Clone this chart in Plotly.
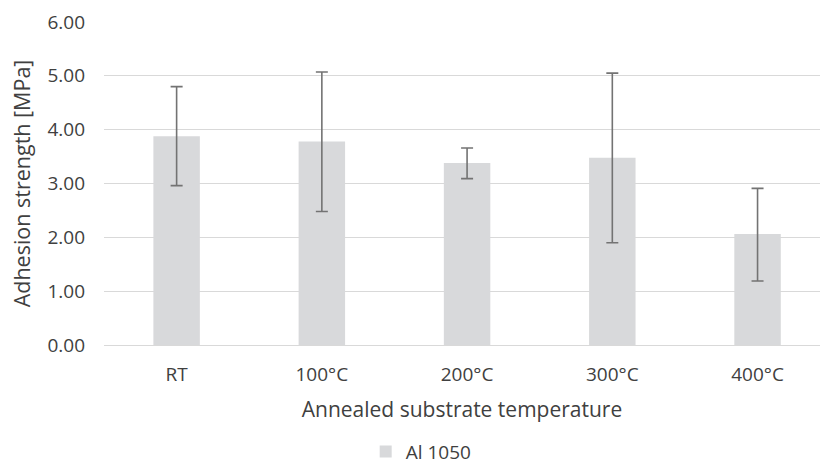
import plotly.graph_objects as go

categories = ["RT", "100°C", "200°C", "300°C", "400°C"]
values = [3.88, 3.78, 3.38, 3.48, 2.06]
err_plus = [0.92, 1.29, 0.28, 1.57, 0.85]
err_minus = [0.92, 1.30, 0.29, 1.58, 0.87]
series_name = "Al 1050"
y_ticks = [0, 1, 2, 3, 4, 5, 6]
y_tick_labels = ["0.00", "1.00", "2.00", "3.00", "4.00", "5.00", "6.00"]

fig = go.Figure()
fig.add_trace(go.Bar(
    x=categories, y=values, name=series_name,
    marker=dict(color="#d8d9db", line=dict(width=0)),
    error_y=dict(type="data", symmetric=False, array=err_plus, arrayminus=err_minus,
                 color="#737373", thickness=1.6, width=6),
    showlegend=True,
))

font_family = "Open Sans, Segoe UI, sans-serif"
fig.update_layout(
    width=820, height=464,
    margin=dict(l=104, r=0, t=22, b=119, autoexpand=False),
    paper_bgcolor="white", plot_bgcolor="white",
    bargap=0.68,
    font=dict(family=font_family, color="#404040", size=19),
    xaxis=dict(
        range=[-0.5, 4.43], showgrid=False, showline=False, ticks="",
        tickfont=dict(size=19, color="#404040"),
        ticklabelstandoff=16, automargin=False,
        title=dict(text="Annealed substrate temperature", font=dict(size=21, color="#404040"), standoff=16),
    ),
    yaxis=dict(
        range=[0, 6], tickvals=y_ticks, ticktext=y_tick_labels,
        showgrid=True, gridcolor="#d9d9d9", gridwidth=1.3,
        zeroline=True, zerolinecolor="#d9d9d9", zerolinewidth=1.3,
        showline=False, ticks="", ticklen=0,
        tickfont=dict(size=19, color="#404040"),
        ticklabelstandoff=18, automargin=False,
        title=dict(text="Adhesion strength [MPa]", font=dict(size=21.5, color="#404040"), standoff=10),
    ),
    legend=dict(orientation="h", x=0.443, xanchor="center", y=-0.33, yanchor="middle",
                font=dict(size=19, color="#404040"), bgcolor="rgba(0,0,0,0)"),
)
fig.write_html("out.html")
